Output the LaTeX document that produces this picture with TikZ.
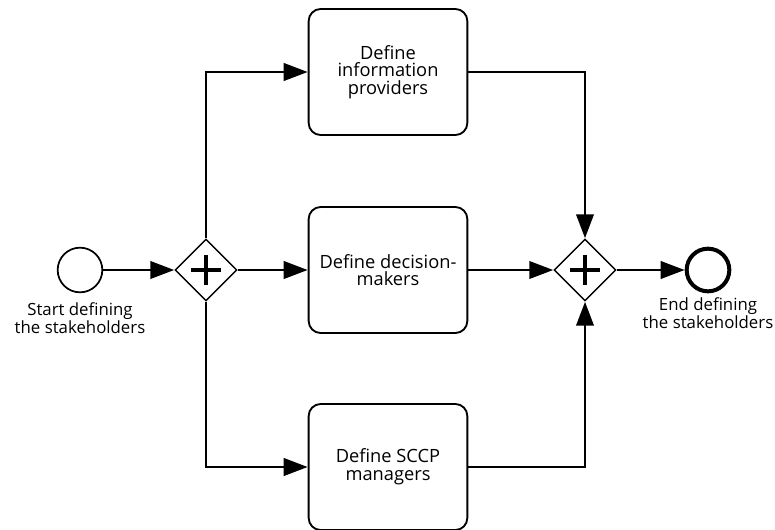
\documentclass[tikz,border=0pt]{standalone}
\usepackage{fontspec}
\setmainfont{Open Sans}
\usetikzlibrary{shapes.geometric, arrows.meta, positioning}

\begin{document}
\begin{tikzpicture}[x=0.75pt, y=-0.75pt,
  event/.style={circle, draw, line width=1.3pt, minimum size=33.5pt, inner sep=0pt},
  endevent/.style={event, line width=3pt, minimum size=32pt},
  task/.style={rectangle, rounded corners=9pt, draw, line width=1.4pt,
               minimum width=119pt, minimum height=94.5pt, align=center,
               font=\fontsize{13.7}{13.3}\selectfont},
  gateway/.style={diamond, draw, line width=1.1pt, minimum size=46.5pt,
                  inner sep=0pt, aspect=1},
  lbl/.style={align=center, font=\fontsize{12.6}{11.3}\selectfont},
  flow/.style={-{Triangle[length=18pt,width=13pt]}, line width=2.2pt}
]
\useasboundingbox (0,0) rectangle (775,529);
% events and gateways
\node[event] (start) at (80,270) {};
\node[lbl] (startlbl) at (80,318) {Start defining\\the stakeholders};
\node[gateway] (fork) at (206,270) {};
\node[gateway] (join) at (585,270) {};
\node[endevent] (end) at (708,270) {};
\node[lbl] (endlbl) at (708,313) {End defining\\the stakeholders};
% tasks
\node[task] (info) at (388,72) {Define\\information\\providers};
\node[task] (dec) at (388,270) {Define decision-\\makers};
\node[task] (sccp) at (388,467) {Define SCCP\\managers};
% parallel markers
\foreach \g in {fork, join}{
  \draw[line width=3pt] (\g.center) ++(-15,0) -- ++(30,0)
                        (\g.center) ++(0,-15) -- ++(0,30);
}
% sequence flows
\draw[flow] (start) -- (fork);
\draw[flow] (fork.north) |- (info);
\draw[flow] (fork) -- (dec);
\draw[flow] (fork.south) |- (sccp);
\draw[flow] (info) -| (join.north);
\draw[flow] (dec) -- (join);
\draw[flow] (sccp) -| (join.south);
\draw[flow] (join) -- (end);
\end{tikzpicture}
\end{document}
